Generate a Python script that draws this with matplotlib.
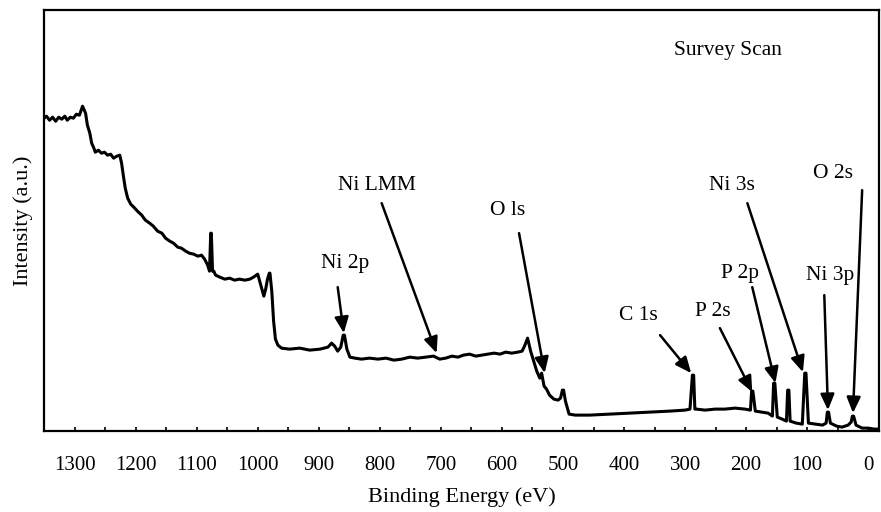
import numpy as np
import matplotlib.pyplot as plt

# XPS survey scan
energy = [1350, 1346, 1341, 1336, 1331, 1326, 1321, 1316, 1312, 1307, 1302, 1297, 1292,
          1287, 1282, 1279, 1275, 1272, 1269, 1266, 1261, 1256, 1251, 1246, 1241, 1236,
          1231, 1226, 1223, 1220, 1217, 1213, 1208, 1203, 1197, 1190, 1184, 1177, 1171,
          1164, 1157, 1151, 1144, 1138, 1131, 1125, 1118, 1112, 1105, 1098, 1092, 1087,
          1082, 1079, 1077, 1076, 1074, 1072, 1069, 1062, 1054, 1046, 1038, 1030, 1021,
          1013, 1007, 1000, 995, 990, 987, 984, 981, 980, 977, 974, 971, 967, 961, 948,
          931, 915, 898, 885, 879, 874, 869, 864, 860, 858, 854, 849, 841, 830, 817, 803,
          790, 777, 764, 751, 738, 725, 712, 702, 692, 682, 672, 663, 653, 643, 633, 623,
          613, 603, 594, 584, 574, 567, 563, 558, 553, 548, 543, 538, 535, 531, 527, 522,
          515, 508, 504, 501, 499, 496, 490, 480, 456, 423, 390, 357, 325, 300, 292, 288,
          286, 284, 282, 267, 251, 235, 218, 202, 193, 191, 189, 185, 174, 164, 157, 155,
          153, 149, 141, 134, 132, 130, 128, 118, 108, 104, 102, 98, 87, 75, 69, 67, 65,
          62, 52, 43, 33, 28, 26, 24, 20, 10, 0, -10, -18]
intensity = [313, 315, 311, 314, 310, 314, 312, 315, 311, 314, 313, 317, 316,
             325, 318, 306, 298, 288, 284, 279, 281, 278, 279, 276, 277, 273,
             275, 276, 268, 255, 243, 233, 227, 224, 220, 216, 211, 208, 205,
             200, 198, 193, 190, 188, 184, 183, 180, 178, 177, 175, 176, 172,
             166, 160, 198, 198, 160, 160, 156, 154, 152, 153, 151, 152, 151,
             152, 154, 157, 146, 135, 142, 152, 158, 158, 140, 110, 92, 86, 83, 82,
             83, 81, 82, 84, 88, 85, 80, 84, 96, 96, 82, 74, 73, 72, 73, 72,
             73, 71, 72, 74, 73, 74, 75, 72, 73, 75, 74, 76, 77, 75, 76, 77,
             78, 77, 79, 78, 79, 80, 85, 93, 80, 70, 60, 53, 58, 45, 42, 36,
             32, 31, 33, 41, 41, 30, 17, 16, 16, 17, 18, 19, 20, 21, 22, 56,
             56, 22, 22, 21, 22, 22, 23, 22, 21, 40, 40, 20, 19, 18, 15, 48,
             48, 14, 12, 10, 41, 41, 10, 8, 7, 58, 58, 8, 7, 6, 8, 19, 19,
             8, 5, 4, 6, 9, 15, 15, 6, 3, 3, 2, 2]

# peak labels: text, arrow tip (eV, intensity)
peak_labels = ["Ni 2p", "Ni LMM", "O ls", "C 1s", "P 2s", "P 2p", "Ni 3s", "Ni 3p", "O 2s"]
tip_energy = [859, 707, 530, 290, 190, 152, 107, 66, 25]
tip_intensity = [98, 78, 58, 58, 39, 48, 59, 21, 18]

# layout of the labels and arrow tails
text_pos = [(857, 168), (805, 246), (590, 221), (377, 116), (254, 120),
            (210, 158), (223, 246), (62, 156), (57, 258)]
tail_pos = [(869, 144), (797, 228), (572, 198), (341, 96), (243, 103),
            (190, 144), (198, 228), (72, 136), (10, 241)]

plt.rcParams['font.family'] = ['Liberation Serif', 'DejaVu Serif']

fig = plt.figure(figsize=(8.81, 5.12), dpi=100)
ax = fig.add_axes([0.050, 0.158, 0.948, 0.822])

ax.plot(energy, intensity, color='black', lw=2.2, solid_joinstyle='round')

ax.set_xlim(1350, -18)
ax.set_ylim(0, 421)
ax.set_xticks(np.arange(0, 1301, 100))
ax.set_xticks(np.arange(0, 1301, 50), minor=True)
ax.tick_params(axis='x', which='both', direction='in', length=3, width=1.2,
               labelsize=15, pad=18)
ax.set_yticks([])
for sp in ax.spines.values():
    sp.set_linewidth(1.6)

ax.set_xlabel("Binding Energy (eV)", fontsize=16, labelpad=9)
ax.set_ylabel("Intensity (a.u.)", fontsize=16, labelpad=8)

ax.text(0.819, 0.905, "Survey Scan", transform=ax.transAxes, fontsize=15.5,
        ha='center', va='center')

for lab, te, ti, tp, tl in zip(peak_labels, tip_energy, tip_intensity, text_pos, tail_pos):
    ax.text(tp[0], tp[1], lab, fontsize=15.5, ha='center', va='center')
    ax.annotate('', xy=(te, ti), xytext=tl,
                arrowprops=dict(arrowstyle='-|>,head_length=0.8,head_width=0.35',
                                lw=1.8, color='black', mutation_scale=12,
                                shrinkA=0, shrinkB=0))

fig.savefig('out.png', dpi=100)
